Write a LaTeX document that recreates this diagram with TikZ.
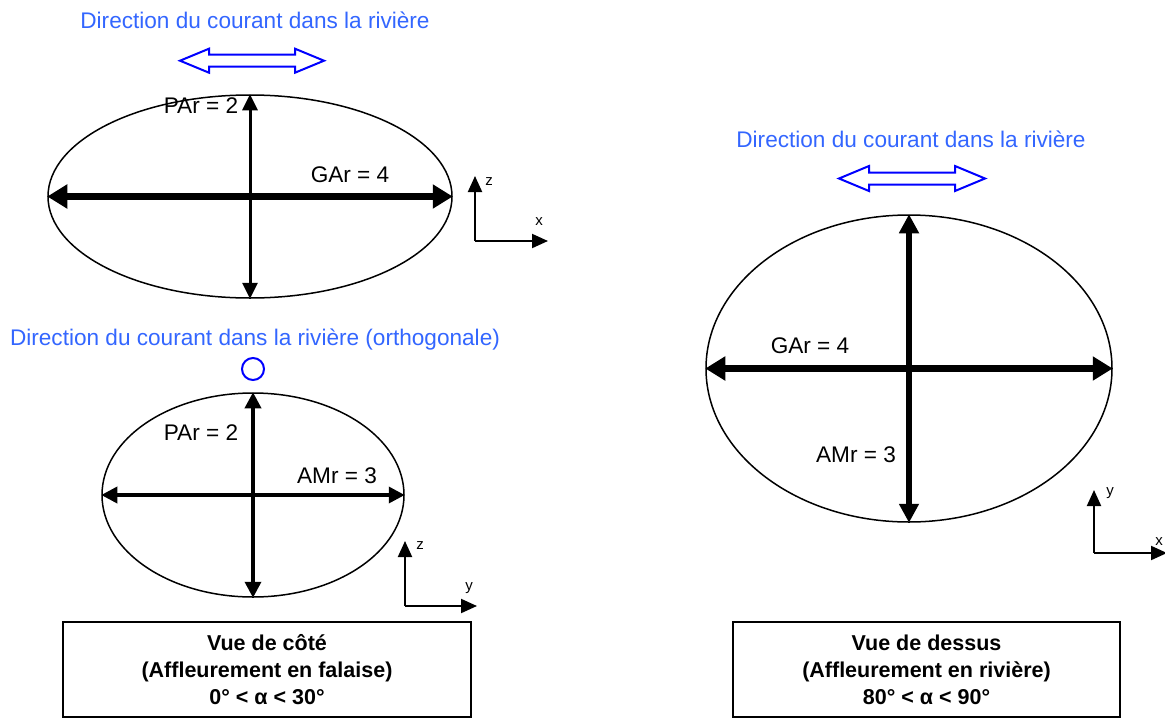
\documentclass[tikz,border=0pt]{standalone}
\usepackage{fontspec}
\setmainfont{Liberation Sans}
\usetikzlibrary{shapes.geometric,arrows.meta}
\definecolor{txtblue}{RGB}{51,102,255}
\definecolor{arrblue}{RGB}{0,0,255}
\begin{document}
\begin{tikzpicture}[x=1pt,y=-1pt,
 lbl/.style={font=\fontsize{22.6}{27}\selectfont, inner sep=0pt},
 dirtxt/.style={lbl, text=txtblue},
 ell/.style={draw, ellipse, line width=1.5pt, inner sep=0pt},
 thickarr/.style={line width=6.5pt, {Triangle[length=20pt,width=23pt]}-{Triangle[length=20pt,width=23pt]}},
 thinarr/.style={line width=3.5pt, {Triangle[length=16pt,width=16pt]}-{Triangle[length=16pt,width=16pt]}},
 axisarr/.style={line width=2pt, -{Triangle[length=16pt,width=14pt]}},
 axlbl/.style={font=\fontsize{15}{18}\selectfont, inner sep=0pt},
 capbox/.style={draw, line width=2pt, font=\bfseries\fontsize{21.5}{27}\selectfont, align=center, inner sep=0pt},
 flow/.style={draw=arrblue, line width=2pt, fill=white, line join=miter}
]
\useasboundingbox (0,0) rectangle (1165,718);

% ---------- top-left view ----------
\node[dirtxt] (d1) at (255,20) {Direction du courant dans la rivière};
\draw[flow, shift={(252,60.7)}] (-72,0) -- (-43,-12) -- (-43,-6) -- (43,-6) -- (43,-12) -- (72,0) -- (43,12) -- (43,6) -- (-43,6) -- (-43,12) -- cycle;
\node[ell, minimum width=404pt, minimum height=203pt] (e1) at (250,196.5) {};
\draw[thickarr] (e1.west) -- (e1.east);
\draw[line width=3pt, {Triangle[length=16pt,width=15pt]}-{Triangle[length=16pt,width=15pt]}] (e1.north) -- (e1.south);
\node[lbl] (p1) at (201,106) {PAr = 2};
\node[lbl] (g1) at (350,175) {GAr = 4};
\coordinate (o1) at (475,241);
\coordinate (z1) at (475,176);
\coordinate (x1) at (548,241);
\draw[axisarr] (o1) -- (z1);
\draw[axisarr] (o1) -- (x1);
\node[axlbl] (lz1) at (489,182) {z};
\node[axlbl] (lx1) at (539,222) {x};

% ---------- bottom-left view ----------
\node[dirtxt] (d2) at (255,340) {Direction du courant dans la rivière (orthogonale)};
\node[draw=arrblue, circle, line width=2pt, minimum size=22pt, inner sep=0pt] (c2) at (253,369) {};
\node[ell, minimum width=302pt, minimum height=204pt] (e2) at (253,495) {};
\draw[thinarr] (e2.west) -- (e2.east);
\draw[thinarr] (e2.north) -- (e2.south);
\node[lbl] (p2) at (201,433) {PAr = 2};
\node[lbl] (a2) at (337,476) {AMr = 3};
\coordinate (o2) at (405,606);
\coordinate (z2) at (405,541);
\coordinate (y2) at (477,606);
\draw[axisarr] (o2) -- (z2);
\draw[axisarr] (o2) -- (y2);
\node[axlbl] (lz2) at (420,546) {z};
\node[axlbl] (ly2) at (469,588) {y};
\node[capbox, minimum width=408pt, minimum height=95pt] (b1) at (267,669.5) {Vue de côté\\(Affleurement en falaise)\\0° < α < 30°};

% ---------- right view ----------
\node[dirtxt] (d3) at (911,139) {Direction du courant dans la rivière};
\draw[flow, shift={(912,178.5)}] (-73,0) -- (-43,-12.5) -- (-43,-6) -- (43,-6) -- (43,-12.5) -- (73,0) -- (43,12.5) -- (43,6) -- (-43,6) -- (-43,12.5) -- cycle;
\node[ell, minimum width=406pt, minimum height=307pt] (e3) at (909,368.5) {};
\draw[thickarr] (e3.west) -- (e3.east);
\draw[line width=6pt, {Triangle[length=19pt,width=19pt]}-{Triangle[length=19pt,width=19pt]}] (e3.north) -- (e3.south);
\node[lbl] (g3) at (810,346) {GAr = 4};
\node[lbl] (a3) at (856,455) {AMr = 3};
\coordinate (o3) at (1094,553);
\coordinate (y3) at (1094,490);
\coordinate (x3) at (1167,553);
\draw[axisarr] (o3) -- (y3);
\draw[axisarr] (o3) -- (x3);
\node[axlbl] (ly3) at (1110,493) {y};
\node[axlbl] (lx3) at (1159,542) {x};
\node[capbox, minimum width=387pt, minimum height=95pt] (b2) at (926.5,669.5) {Vue de dessus\\(Affleurement en rivière)\\80° < α < 90°};
\end{tikzpicture}
\end{document}
